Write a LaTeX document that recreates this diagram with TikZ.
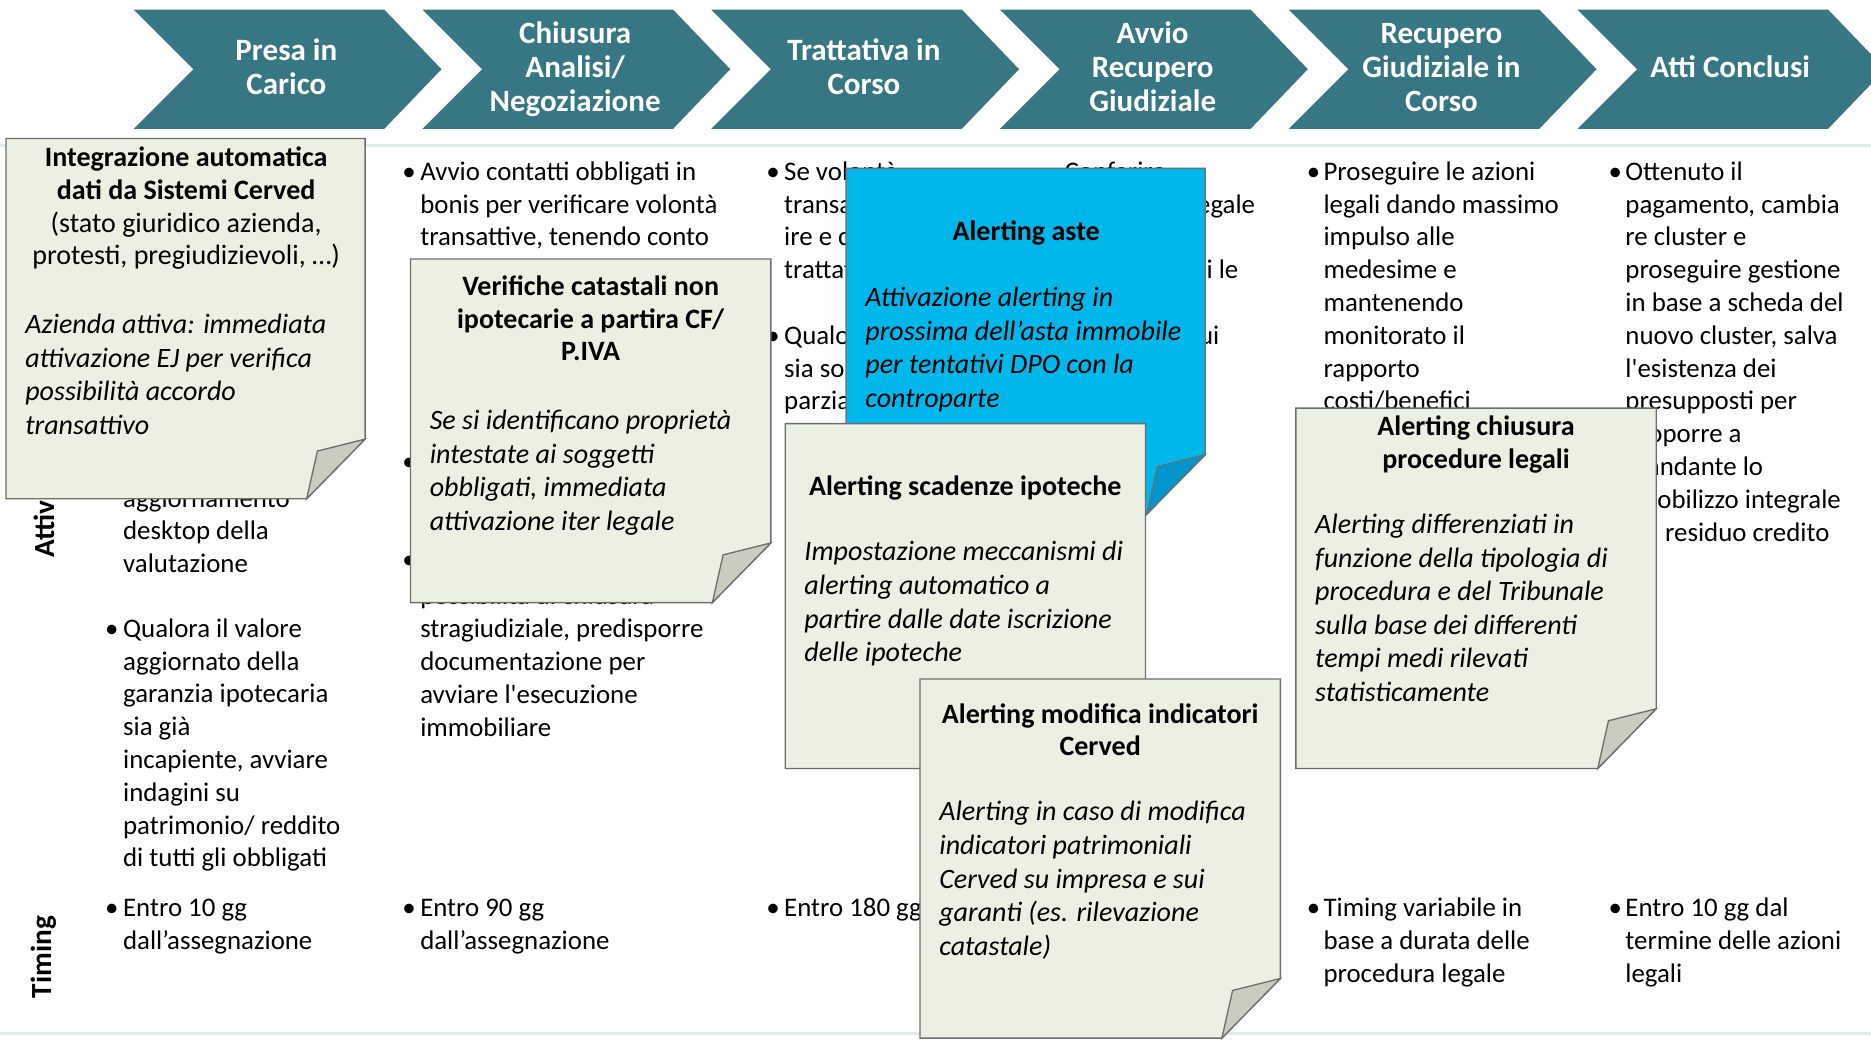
\documentclass[tikz,border=0pt]{standalone}
\usepackage{fontspec}
\setmainfont{Carlito}
\definecolor{chevcol}{RGB}{55,118,131}
\definecolor{notefill}{RGB}{236,240,227}
\definecolor{foldfill}{RGB}{201,205,191}
\definecolor{noteline}{RGB}{110,110,110}
\definecolor{bluefill}{RGB}{0,183,236}
\definecolor{bluefold}{RGB}{0,150,205}
\definecolor{sepcol}{RGB}{222,236,240}
\newcommand\bodyf{\fontsize{22.5}{27.5}\selectfont}
\newcommand\ntf{\fontsize{23.5}{27.5}\selectfont}
\newcommand\nif{\fontsize{23.5}{28.2}\selectfont\itshape}
\newcommand\chevf{\fontsize{26}{28.5}\selectfont\bfseries}
\newcommand\labf{\fontsize{24.5}{28}\selectfont\bfseries}
\newcommand\lns[1]{\begin{tabular}[t]{@{}l@{}}#1\end{tabular}}
\newcommand\clns[1]{\begin{tabular}[t]{@{}c@{}}#1\end{tabular}}
\newcommand\mlns[1]{\begin{tabular}{@{}c@{}}#1\end{tabular}}
\newcommand\notepaper[6]{%
  \path[notebox, fill=#5] (#1,#2) -- (#3,#2) -- (#3,#4-50) -- (#3-49,#4) -- (#1,#4) -- cycle;
  \path[foldbox, fill=#6] (#3,#4-50) -- (#3-40,#4-40) -- (#3-49,#4) -- cycle;
}
\tikzset{
  chev/.style={fill=chevcol, draw=none},
  chevtext/.style={text=white, font=\chevf, inner sep=0},
  body/.style={anchor=base west, inner sep=0, font=\bodyf},
  bodyr/.style={anchor=base east, inner sep=0, font=\bodyf},
  bul/.style={anchor=base west, inner sep=0, font=\bodyf},
  notebox/.style={draw=noteline, line width=1.1pt, line join=miter},
  foldbox/.style={draw=noteline, line width=1.1pt, line join=miter},
  ntitle/.style={anchor=base, inner sep=0, font=\ntf},
  ntext/.style={anchor=base west, inner sep=0, font=\nif},
  sepline/.style={draw=sepcol, line width=2.5pt},
  rowlabel/.style={rotate=90, font=\labf, inner sep=0},
}
\begin{document}
\begin{tikzpicture}[x=1pt,y=-1pt]
\useasboundingbox (0,0) rectangle (1568,871);
\clip (0,0) rectangle (1568,871);
\fill[white] (0,0) rectangle (1568,871);

% separators
\draw[sepline] (0,122) -- (1568,122);
\draw[sepline] (0,866) -- (1568,866);

% chevrons
\foreach \i/\txt in {0/{Presa in\\Carico},1/{Chiusura\\Analisi/\\Negoziazione},2/{Trattativa in\\Corso},3/{Avvio\\Recupero\\Giudiziale},4/{Recupero\\Giudiziale in\\Corso},5/{Atti Conclusi}}{
  \pgfmathsetmacro\xo{112+242*\i}
  \path[chev] (\xo,8) -- (\xo+210,8) -- (\xo+258,58) -- (\xo+210,108) -- (\xo,108) -- (\xo+50,58) -- cycle;
  \node[chevtext] (chev\i) at (\xo+128,59.2) {\mlns{\txt}};
}

% row labels
\node[rowlabel] (lblatt) at (37,430) {Attività};
\node[rowlabel] (lbltim) at (37,802) {Timing};

% column 1
\node[body] (c1a) at (103,425) {\lns{aggiornamento\\desktop della\\valutazione}};
\node[bul] (b1b) at (88,534) {\textbullet};
\node[body] (c1b) at (103,534) {\lns{Qualora il valore\\aggiornato della\\garanzia ipotecaria\\sia già\\incapiente, avviare\\indagini su\\patrimonio/ reddito\\di tutti gli obbligati}};
\node[bul] (b1t) at (88,768) {\textbullet};
\node[body] (c1t) at (103,768) {\lns{Entro 10 gg\\dall’assegnazione}};

% column 2
\node[bul] (b2a) at (337,151) {\textbullet};
\node[body] (c2a) at (352,151) {\lns{Avvio contatti obbligati in\\bonis per verificare volontà\\transattive, tenendo conto}};
\node[bul] (b2b) at (337,394) {\textbullet};
\node[bul] (b2c) at (337,476.5) {\textbullet};
\node[body] (c2c) at (352,507) {\lns{possibilità di chiusura\\stragiudiziale, predisporre\\documentazione per\\avviare l\textquotesingle esecuzione\\immobiliare}};
\node[bul] (b2t) at (337,768) {\textbullet};
\node[body] (c2t) at (352,768) {\lns{Entro 90 gg\\dall’assegnazione}};

% column 3
\node[bul] (b3a) at (642,151) {\textbullet};
\node[body] (c3a) at (657,151) {\lns{Se volontà\\transattive\\ire e con\\trattativa}};
\node[bul] (b3b) at (642,288.5) {\textbullet};
\node[body] (c3b) at (657,288.5) {\lns{Qualora\\sia solo\\parziale}};
\node[bul] (b3t) at (642,768) {\textbullet};
\node[body] (c3t) at (657,768) {\lns{Entro 180 gg}};

% column 4
\node[body] (c4a) at (892,151) {Conferire};
\node[bodyr] (c4b) at (1052,178.5) {legale};
\node[bodyr] (c4c) at (1038,233.5) {i le};
\node[bodyr] (c4d) at (1022,288.5) {cui};

% column 5
\node[bul] (b5a) at (1095,151) {\textbullet};
\node[body] (c5a) at (1109,151) {\lns{Proseguire le azioni\\legali dando massimo\\impulso alle\\medesime e\\mantenendo\\monitorato il\\rapporto\\costi/benefici}};
\node[bul] (b5t) at (1095,768) {\textbullet};
\node[body] (c5t) at (1109,768) {\lns{Timing variabile in\\base a durata delle\\procedura legale}};

% column 6
\node[bul] (b6a) at (1348,151) {\textbullet};
\node[body] (c6a) at (1362,151) {\lns{Ottenuto il\\pagamento, cambia\\re cluster e\\proseguire gestione\\in base a scheda del\\nuovo cluster, salva\\l\textquotesingle esistenza dei\\presupposti per\\proporre a\\mandante lo\\smobilizzo integrale\\del residuo credito}};
\node[bul] (b6t) at (1348,768) {\textbullet};
\node[body] (c6t) at (1362,768) {\lns{Entro 10 gg dal\\termine delle azioni\\legali}};

% note 1
\notepaper{5}{116}{306}{418}{notefill}{foldfill}
\node[ntitle] (n1t) at (156,139.5) {\clns{\textbf{Integrazione automatica}\\\textbf{dati da Sistemi Cerved}\\(stato giuridico azienda,\\protesti, pregiudizievoli, …)}};
\node[ntext] (n1x) at (21,279.5) {\lns{Azienda attiva: immediata\\attivazione EJ per verifica\\possibilità accordo\\transattivo}};

% note 2
\notepaper{344}{217}{646}{505}{notefill}{foldfill}
\node[ntitle] (n2t) at (495,247.5) {\bfseries\clns{Verifiche catastali non\\ipotecarie a partira CF/\\P.IVA}};
\node[ntext] (n2x) at (360,360) {\lns{Se si identificano proprietà\\intestate ai soggetti\\obbligati, immediata\\attivazione iter legale}};

% note 3 (blue)
\notepaper{709}{141}{1010}{431}{bluefill}{bluefold}
\node[ntitle] (n3t) at (860,201.5) {\bfseries Alerting aste};
\node[ntext] (n3x) at (725,257) {\lns{Attivazione alerting in\\prossima dell’asta immobile\\per tentativi DPO con la\\controparte}};

% note 4
\notepaper{658}{355}{960}{644}{notefill}{foldfill}
\node[ntitle] (n4t) at (809,415) {\bfseries Alerting scadenze ipoteche};
\node[ntext] (n4x) at (674,470) {\lns{Impostazione meccanismi di\\alerting automatico a\\partire dalle date iscrizione\\delle ipoteche}};

% note 5
\notepaper{771}{569}{1073}{870}{notefill}{foldfill}
\node[ntitle] (n5t) at (922,606) {\bfseries\clns{Alerting modifica indicatori\\Cerved}};
\node[ntext] (n5x) at (787,688) {\lns{Alerting in caso di modifica\\indicatori patrimoniali\\Cerved su impresa e sui\\garanti (es. rilevazione\\catastale)}};

% note 6
\notepaper{1086}{342}{1388}{644}{notefill}{foldfill}
\node[ntitle] (n6t) at (1237,365) {\bfseries\clns{Alerting chiusura\\procedure legali}};
\node[ntext] (n6x) at (1102,447) {\lns{Alerting differenziati in\\funzione della tipologia di\\procedura e del Tribunale\\sulla base dei differenti\\tempi medi rilevati\\statisticamente}};
\end{tikzpicture}
\end{document}
